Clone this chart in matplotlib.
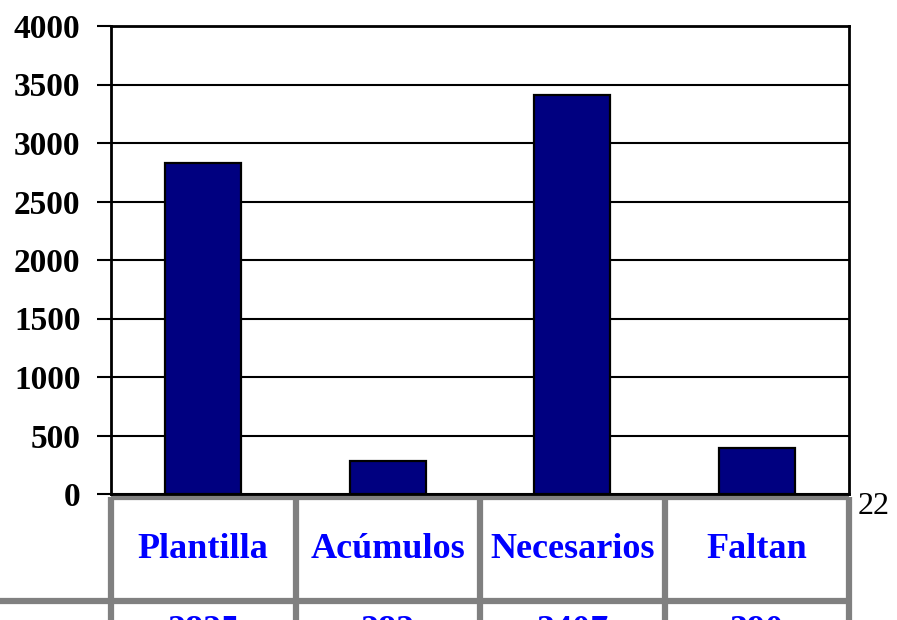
import matplotlib
matplotlib.use("Agg")
import matplotlib.pyplot as plt
import numpy as np

categories = ["Plantilla", "Acúmulos", "Necesarios", "Faltan"]
values = [2825, 282, 3407, 390]
yticks = [0, 500, 1000, 1500, 2000, 2500, 3000, 3500, 4000]
page_number = "22"

plt.rcParams['font.family'] = ['Liberation Serif', 'DejaVu Serif']

W, H = 897, 620
fig = plt.figure(figsize=(W / 100, H / 100), dpi=100)
L, R, T, B = 111, 849, 26, 494
ax = fig.add_axes([L / W, 1 - B / H, (R - L) / W, (B - T) / H])

x = np.arange(len(categories))
ax.bar(x, values, width=0.41, color='#000080', edgecolor='black', linewidth=1.6, zorder=3)

ax.set_xlim(-0.5, len(categories) - 0.5)
ax.set_ylim(0, 4000)
ax.set_yticks(yticks)
ax.set_yticklabels([str(v) for v in yticks], fontsize=24, fontweight='bold')
ax.tick_params(axis='y', direction='out', length=10, width=1.5, pad=12, colors='black')
ax.set_xticks([])
ax.grid(axis='y', color='black', linewidth=1.5, zorder=1)
for s in ax.spines.values():
    s.set_color('black')
    s.set_linewidth(2)

# table below axes
px = 1.0 / (B - T)  # axes-fraction per pixel
trans = ax.get_xaxis_transform()
grey = '#808080'
lw = 4.5
top_y = -3 * px
row1_y = -106.5 * px
bot_y = -140 * px
edges = np.arange(len(categories) + 1) - 0.5
for e in edges:
    ax.plot([e, e], [top_y, bot_y], color=grey, linewidth=lw, transform=trans,
            clip_on=False, solid_capstyle='butt', zorder=0)
ax.plot([edges[0], edges[-1]], [top_y, top_y], color=grey, linewidth=lw,
        transform=trans, clip_on=False, solid_capstyle='butt', zorder=0)
ax.plot([edges[0] - 1.5, edges[-1]], [row1_y, row1_y], color=grey, linewidth=lw,
        transform=trans, clip_on=False, solid_capstyle='butt', zorder=0)

for xi, c, v in zip(x, categories, values):
    ax.text(xi, -55 * px, c, transform=trans, ha='center', va='center',
            fontsize=26, fontweight='bold', color='#0000ff', clip_on=False)
    ax.text(xi, -121 * px, str(v), transform=trans, ha='center', va='top',
            fontsize=26, fontweight='bold', color='#0000ff', clip_on=False)

fig.text(874 / W, 1 - 506 / H, page_number, ha='center', va='center', fontsize=23, color='black')

fig.savefig("out.png", dpi=100)
